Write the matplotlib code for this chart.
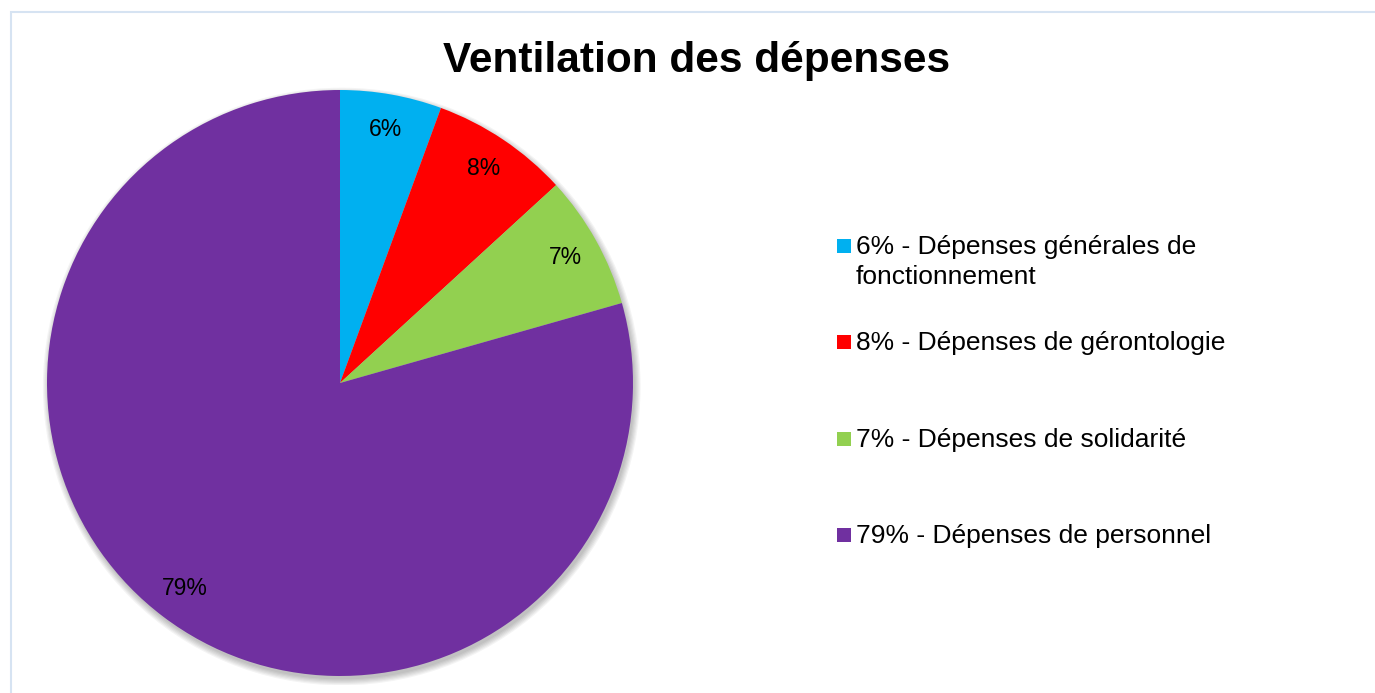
import matplotlib
matplotlib.use("Agg")
import matplotlib.pyplot as plt
from matplotlib.patches import Rectangle, Circle

plt.rcParams["font.family"] = ["Liberation Sans", "DejaVu Sans"]

# --- data ------------------------------------------------------------------
categories = ["Dépenses générales de\nfonctionnement",
              "Dépenses de gérontologie",
              "Dépenses de solidarité",
              "Dépenses de personnel"]
shares = [5.6, 7.6, 7.4, 79.4]
colors = ["#00b0f0", "#ff0000", "#92d050", "#7030a0"]
title = "Ventilation des dépenses"

W, H = 1375, 693
fig = plt.figure(figsize=(W / 100, H / 100), dpi=100)

# light chart-area frame (cut on the right and bottom like the screenshot)
fig.patches.append(Rectangle((11 / W, -0.1), 1.2, 1.1 - 12 / H, transform=fig.transFigure,
                             fill=False, ec="#d6e3f2", lw=1.5))

# pie: centre (340, 383) px, radius 293 px
cx, cy, r = 340, 383, 293
ax = fig.add_axes([(cx - r * 1.03) / W, (H - cy - r * 1.03) / H, 2.06 * r / W, 2.06 * r / H])
# soft drop shadow
for k in range(6):
    ax.add_patch(Circle((0.006, -0.012), 1.0 + 0.004 * k, color="black",
                        alpha=0.045, zorder=0, lw=0))
wedges, texts = ax.pie(shares, colors=colors, startangle=90, counterclock=False,
                       labels=[f"{s:.0f}%" for s in shares], labeldistance=0.88,
                       wedgeprops=dict(lw=0),
                       textprops=dict(fontsize=16.5, color="black", ha="center", va="center"))
ax.set_xlim(-1.03, 1.03)
ax.set_ylim(-1.03, 1.03)
ax.set_aspect("equal")
ax.axis("off")

fig.text(697 / W, 1 - 72 / H, title, fontsize=30.5, fontweight="bold",
         ha="center", va="baseline")

# legend, drawn by hand so the square sits on the first line
legend_base = [254, 350, 447, 543]
for y, s, c, lab in zip(legend_base, shares, colors, categories):
    fig.patches.append(Rectangle((837 / W, 1 - (y - 1) / H), 14 / W, 14 / H,
                                 transform=fig.transFigure, color=c, lw=0))
    lines = f"{s:.0f}% - {lab}".split("\n")
    for i, line in enumerate(lines):
        fig.text(856 / W, 1 - (y + 30 * i) / H, line, fontsize=19, ha="left", va="baseline")

fig.savefig("out.png", dpi=100)
